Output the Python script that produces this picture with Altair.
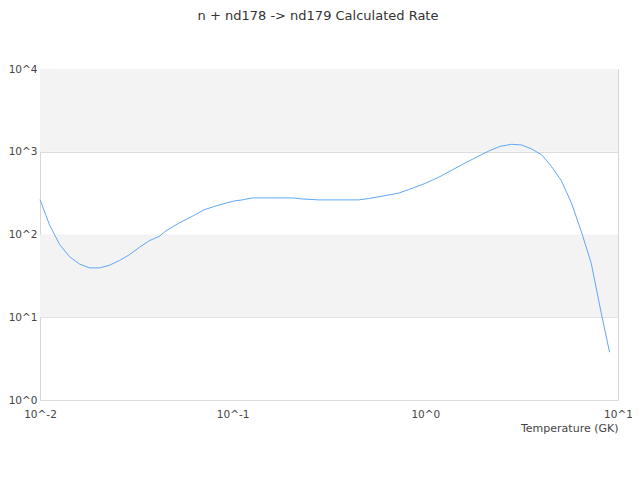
import altair as alt
import pandas as pd

temps = [0.01, 0.0112, 0.01265, 0.01426, 0.01603, 0.01807, 0.02037, 0.02291, 0.02582,
         0.02911, 0.0328, 0.0369, 0.0416, 0.0451, 0.0528, 0.0618, 0.0711, 0.0851,
         0.1016, 0.1122, 0.1265, 0.148, 0.2037, 0.2291, 0.28, 0.451, 0.508, 0.619,
         0.726, 0.818, 1.0, 1.17, 1.37, 1.61, 1.81, 2.12, 2.44, 2.80, 3.16, 3.56,
         4.01, 4.51, 5.08, 5.73, 6.44, 7.26, 8.18, 9.04]
rates = [264, 131, 75.5, 53.7, 44, 39.5, 39.5, 42.5, 48.4, 57, 70, 84, 95, 111, 138,
         166, 199, 228, 254, 262, 277, 277, 277, 269, 262, 262, 272, 295, 316, 348,
         415, 490, 597, 732, 842, 1012, 1162, 1230, 1208, 1081, 922, 667, 447, 241,
         110, 45, 11.3, 3.78]

band_lo = [10, 1000]
band_hi = [100, 10000]

x_ticks = [0.01, 0.1, 1, 10]
y_ticks = [1, 10, 100, 1000, 10000]

title = "n + nd178 -> nd179 Calculated Rate"
x_title = "Temperature (GK)"

df = pd.DataFrame({"T": temps, "rate": rates})
bands = pd.DataFrame({"lo": band_lo, "hi": band_hi})

label_expr = "'10^' + toString(round(log(datum.value) / LN10))"

xscale = alt.Scale(type="log", domain=[0.01, 10], nice=False)
yscale = alt.Scale(type="log", domain=[1, 10000], nice=False)

band_layer = alt.Chart(bands).mark_rect(color="#f3f3f3").encode(
    y=alt.Y("lo:Q", scale=yscale),
    y2="hi:Q",
    x=alt.value(0),
    x2=alt.value("width"),
)

line_layer = alt.Chart(df).mark_line(color="#5fa8f5", strokeWidth=1).encode(
    x=alt.X("T:Q", scale=xscale,
            axis=alt.Axis(values=x_ticks, labelExpr=label_expr, title=x_title,
                          grid=False, ticks=False, domain=False,
                          labelPadding=9, labelFontSize=10.5, labelColor="#444",
                          labelFont="DejaVu Sans", titleFont="DejaVu Sans",
                          titleFontSize=11, titleFontWeight="normal", titleColor="#444",
                          titleAnchor="end", titleAlign="right", titlePadding=3,
                          labelFlush=False)),
    y=alt.Y("rate:Q", scale=yscale,
            axis=alt.Axis(values=y_ticks, labelExpr=label_expr, title=None,
                          grid=True, gridColor="#dddddd", ticks=False, domain=False,
                          labelPadding=3, labelFontSize=10.5, labelColor="#444",
                          labelFont="DejaVu Sans", labelFlush=False)),
)

chart = alt.layer(band_layer, line_layer).properties(
    width=578,
    height=331,
    title=alt.TitleParams(title, font="DejaVu Sans", fontSize=13, fontWeight="normal",
                          color="#333", anchor="middle", baseline="top", offset=41,
                          dx=-11),
    autosize=alt.AutoSizeParams(type="none"),
    padding={"left": 32, "right": 14, "top": 61, "bottom": 40},
).configure_view(stroke="#d6d6d6", strokeWidth=1)

chart.save("out.html", embed_options={"renderer": "svg", "actions": False})
